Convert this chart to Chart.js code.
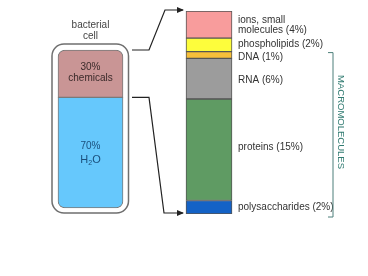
<!DOCTYPE html>
<html>
<head>
<meta charset="utf-8">
<script src="https://cdn.jsdelivr.net/npm/chart.js@4.4.1/dist/chart.umd.min.js"></script>
<style>
  body { margin: 0; background: #fff; }
</style>
</head>
<body>
<canvas id="cell" width="368" height="276"></canvas>
<script>
// left bar: whole cell, bottom to top
const cellNames = ["70%|H2O", "30%|chemicals"];
const cellValues = [70, 30];

// right bar: the chemicals, bottom to top
const partNames = [
  ["polysaccharides (2%)"],
  ["proteins (15%)"],
  ["RNA (6%)"],
  ["DNA (1%)"],
  ["phospholipids (2%)"],
  ["ions, small", "molecules (4%)"],
];
const partValues = [2, 15, 6, 1, 2, 4];

const cellColors = ["#66c8fc", "#c99595"];
const partColors = ["#1462c6", "#5f9b63", "#9c9c9c", "#f7bf3a", "#fdfd3c", "#f89c9c"];
// small nudges so the thin segment labels don't collide
const labelNudge = [0, -2, 2, 2.5, -1, 0.5];

const FONT = "Liberation Sans, Arial, sans-serif";

function box(el) {
  return el.getProps(["x", "y", "base", "width"], true);
}

const deco = {
  id: "deco",
  beforeDatasetsDraw(chart) {
    const ctx = chart.ctx;
    const w = box(chart.getDatasetMeta(0).data[0]);
    const c = box(chart.getDatasetMeta(1).data[0]);
    const x0 = w.x - w.width / 2 - 6, x1 = w.x + w.width / 2 + 5.5;
    const y0 = c.y - 6, y1 = w.base + 5;
    ctx.save();
    ctx.beginPath();
    ctx.roundRect(x0, y0, x1 - x0, y1 - y0, 12);
    ctx.fillStyle = "#fff";
    ctx.fill();
    ctx.strokeStyle = "#6f6f6f";
    ctx.lineWidth = 1.5;
    ctx.stroke();
    ctx.restore();
  },
  afterDatasetsDraw(chart) {
    const ctx = chart.ctx;
    const w = box(chart.getDatasetMeta(0).data[0]);
    const c = box(chart.getDatasetMeta(1).data[0]);
    const n = partValues.length;
    const bottomSeg = box(chart.getDatasetMeta(2).data[1]);
    const topSeg = box(chart.getDatasetMeta(1 + n).data[1]);
    const rx = bottomSeg.x - bottomSeg.width / 2;

    ctx.save();
    // cell text
    ctx.textAlign = "center";
    ctx.textBaseline = "middle";
    ctx.fillStyle = "#444";
    ctx.font = "10px " + FONT;
    ctx.fillText("bacterial", w.x, 25);
    ctx.fillText("cell", w.x, 36);

    ctx.fillStyle = "#3a2a2a";
    let mid = (c.y + c.base) / 2;
    ctx.fillText(cellNames[1].split("|")[0], w.x, mid - 6);
    ctx.fillText(cellNames[1].split("|")[1], w.x, mid + 5);

    ctx.fillStyle = "#1b4f7c";
    mid = (w.y + w.base) / 2;
    ctx.fillText(cellNames[0].split("|")[0], w.x, mid - 6);
    ctx.font = "11px " + FONT;
    const hw = ctx.measureText("H").width, ow = ctx.measureText("O").width;
    ctx.font = "7px " + FONT;
    const sw = ctx.measureText("2").width;
    let tx = w.x - (hw + sw + ow) / 2;
    ctx.textAlign = "left";
    ctx.font = "11px " + FONT;
    ctx.fillText("H", tx, mid + 7);
    ctx.font = "7px " + FONT;
    ctx.fillText("2", tx + hw, mid + 10);
    ctx.font = "11px " + FONT;
    ctx.fillText("O", tx + hw + sw, mid + 7);

    // segment labels
    ctx.font = "10px " + FONT;
    ctx.fillStyle = "#333";
    partNames.forEach((lines, i) => {
      const s = box(chart.getDatasetMeta(2 + i).data[1]);
      const cy = (s.y + s.base) / 2 + labelNudge[i];
      lines.forEach((t, j) => {
        ctx.fillText(t, s.x + s.width / 2 + 6, cy + (j - (lines.length - 1) / 2) * 10.5);
      });
    });

    // arrows
    ctx.strokeStyle = "#222";
    ctx.fillStyle = "#222";
    ctx.lineWidth = 1.2;
    const arrow = (pts) => {
      ctx.beginPath();
      ctx.moveTo(pts[0][0], pts[0][1]);
      pts.slice(1).forEach(p => ctx.lineTo(p[0], p[1]));
      ctx.stroke();
      const e = pts[pts.length - 1];
      ctx.beginPath();
      ctx.moveTo(e[0] + 1, e[1]);
      ctx.lineTo(e[0] - 6, e[1] - 3);
      ctx.lineTo(e[0] - 6, e[1] + 3);
      ctx.closePath();
      ctx.fill();
    };
    const ax0 = w.x + w.width / 2 + 9;
    arrow([[ax0, c.y], [149, c.y], [165, topSeg.y - 1], [rx - 3, topSeg.y - 1]]);
    arrow([[ax0, c.base], [149, c.base], [164, bottomSeg.base - 1], [rx - 3, bottomSeg.base - 1]]);

    // macromolecules bracket
    const dna = box(chart.getDatasetMeta(2 + 3).data[1]);
    const bx = 333, by0 = dna.y + 1, by1 = bottomSeg.base + 3;
    ctx.strokeStyle = "#4d7f7a";
    ctx.lineWidth = 1;
    ctx.beginPath();
    ctx.moveTo(bx - 5, by0);
    ctx.lineTo(bx, by0);
    ctx.lineTo(bx, by1);
    ctx.lineTo(bx - 5, by1);
    ctx.stroke();

    ctx.translate(341, 122);
    ctx.rotate(Math.PI / 2);
    ctx.textAlign = "center";
    ctx.fillStyle = "#2f7a70";
    ctx.font = "9.5px " + FONT;
    ctx.fillText("MACROMOLECULES", 0, 0);
    ctx.restore();
  }
};

const datasets = [];
cellValues.forEach((v, i) => {
  datasets.push({
    label: cellNames[i],
    data: [v, null],
    yAxisID: "y",
    backgroundColor: cellColors[i],
    borderColor: "#7a7a7a",
    borderWidth: 1,
    borderSkipped: false,
    borderRadius: i === 0
      ? { topLeft: 0, topRight: 0, bottomLeft: 7, bottomRight: 7 }
      : { topLeft: 7, topRight: 7, bottomLeft: 0, bottomRight: 0 },
    barThickness: 65,
  });
});
partValues.forEach((v, i) => {
  datasets.push({
    label: partNames[i].join(" "),
    data: [null, v],
    yAxisID: "y2",
    backgroundColor: partColors[i],
    borderColor: "#555",
    borderWidth: 1,
    borderSkipped: false,
    barThickness: 46,
  });
});

new Chart(document.getElementById("cell"), {
  type: "bar",
  data: { labels: ["cell", "chemicals"], datasets: datasets },
  options: {
    responsive: false,
    animation: false,
    layout: { padding: { left: 31.25, right: 99.75, top: 11, bottom: 62 } },
    plugins: { legend: { display: false }, tooltip: { enabled: false } },
    scales: {
      x: { display: false, stacked: true },
      y: { display: false, stacked: true, min: -3.8, max: 124.7 },
      y2: { display: false, stacked: true, min: 0, max: 30 },
    },
  },
  plugins: [deco],
});
</script>
</body>
</html>
